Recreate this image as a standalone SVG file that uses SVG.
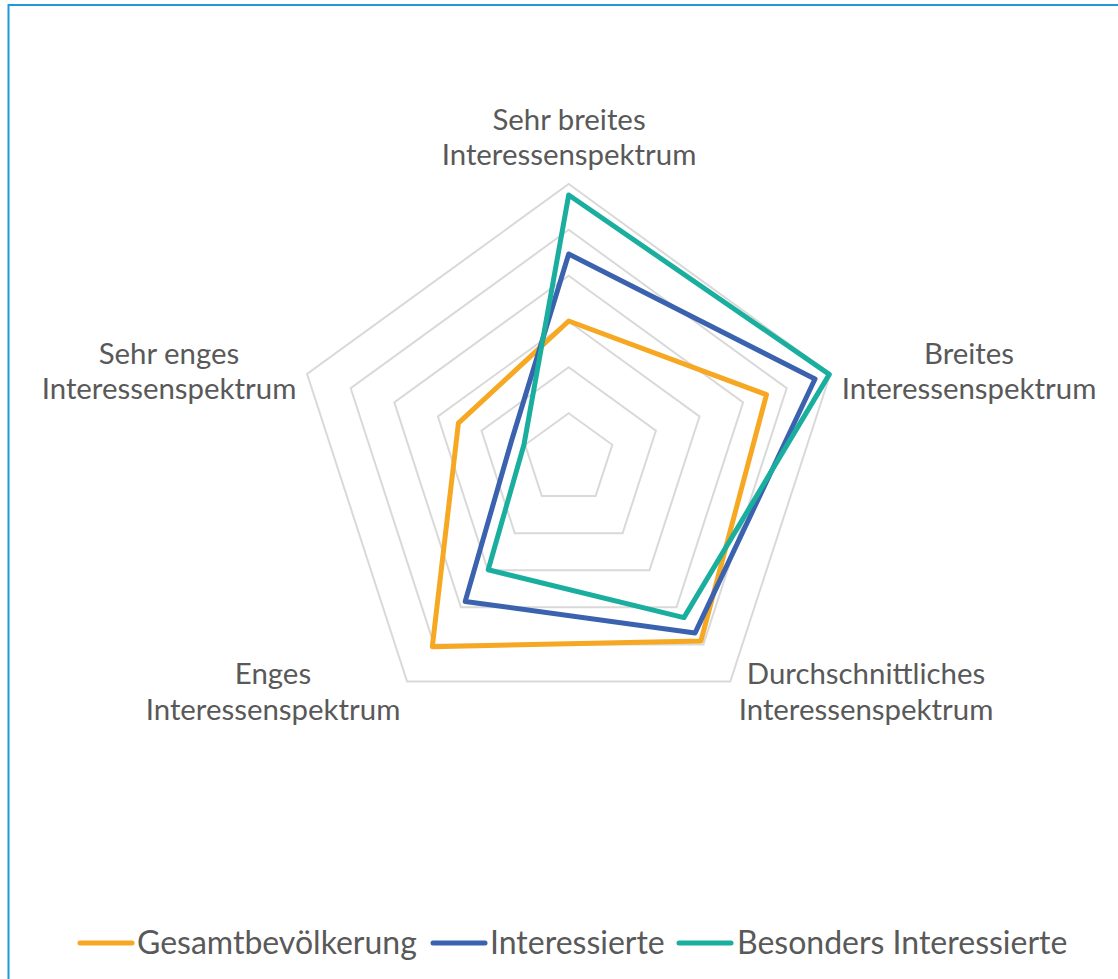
<svg xmlns="http://www.w3.org/2000/svg" width="1118" height="979" viewBox="0 0 1118 979">
<style>
.grid{fill:none;stroke:#D9D9D9;stroke-width:2}
.ser{fill:none;stroke-width:5;stroke-linejoin:round;stroke-linecap:round}
.lbl{font-family:Lato,"Liberation Sans",sans-serif;font-size:29.4px;fill:#595959;text-anchor:middle}
.leg{font-family:Lato,"Liberation Sans",sans-serif;font-size:32px;fill:#595959}
</style>
<rect x="0" y="0" width="1118" height="979" fill="#FFFFFF"/>
<rect x="8.5" y="5" width="1130" height="1000" fill="none" stroke="#1E9AD6" stroke-width="2"/>
<g id="grid">
<polygon class="grid" points="568.7,184 830.3,374 730.3,681.5 407.1,681.5 307.1,374"/>
<polygon class="grid" points="568.7,229.8 786.7,388.2 703.4,644.4 434,644.4 350.7,388.2"/>
<polygon class="grid" points="568.7,275.7 743.1,402.4 676.5,607.3 460.9,607.3 394.3,402.4"/>
<polygon class="grid" points="568.7,321.5 699.5,416.5 649.5,570.2 487.9,570.2 437.9,416.5"/>
<polygon class="grid" points="568.7,367.3 655.9,430.7 622.6,533.2 514.8,533.2 481.5,430.7"/>
<polygon class="grid" points="568.7,413.2 612.3,444.8 595.6,496.1 541.8,496.1 525.1,444.8"/>
</g>
<g id="series">
<polygon id="s-gesamt" class="ser" stroke="#F6A823" points="568.7,321 766.5,394.7 700.9,641 432.3,646.7 458.4,423.2"/>
<polygon id="s-interessierte" class="ser" stroke="#3A62AE" points="568.7,254 815,379 695.1,632.9 465.2,601.4 511.6,440.5"/>
<polygon id="s-besonders" class="ser" stroke="#1AAE9F" points="568.7,195 829.3,374.4 683.9,617.6 488.2,569.8 524,444.5"/>
</g>
<g id="axis-top"><text class="lbl" x="569" y="130">Sehr breites</text><text class="lbl" x="569" y="165">Interessenspektrum</text></g>
<g id="axis-right"><text class="lbl" x="969" y="364">Breites</text><text class="lbl" x="969" y="399">Interessenspektrum</text></g>
<g id="axis-br"><text class="lbl" x="866" y="684">Durchschnittliches</text><text class="lbl" x="866" y="720">Interessenspektrum</text></g>
<g id="axis-bl"><text class="lbl" x="273" y="684">Enges</text><text class="lbl" x="273" y="720">Interessenspektrum</text></g>
<g id="axis-left"><text class="lbl" x="169" y="364">Sehr enges</text><text class="lbl" x="169" y="399">Interessenspektrum</text></g>
<g id="legend">
<line x1="80" y1="943" x2="132" y2="943" stroke="#F6A823" stroke-width="5" stroke-linecap="round"/>
<text class="leg" x="137" y="954">Gesamtbevölkerung</text>
<line x1="433" y1="943" x2="485" y2="943" stroke="#3A62AE" stroke-width="5" stroke-linecap="round"/>
<text class="leg" x="490" y="954">Interessierte</text>
<line x1="679" y1="943" x2="731" y2="943" stroke="#1AAE9F" stroke-width="5" stroke-linecap="round"/>
<text class="leg" x="737" y="954">Besonders Interessierte</text>
</g>
</svg>
